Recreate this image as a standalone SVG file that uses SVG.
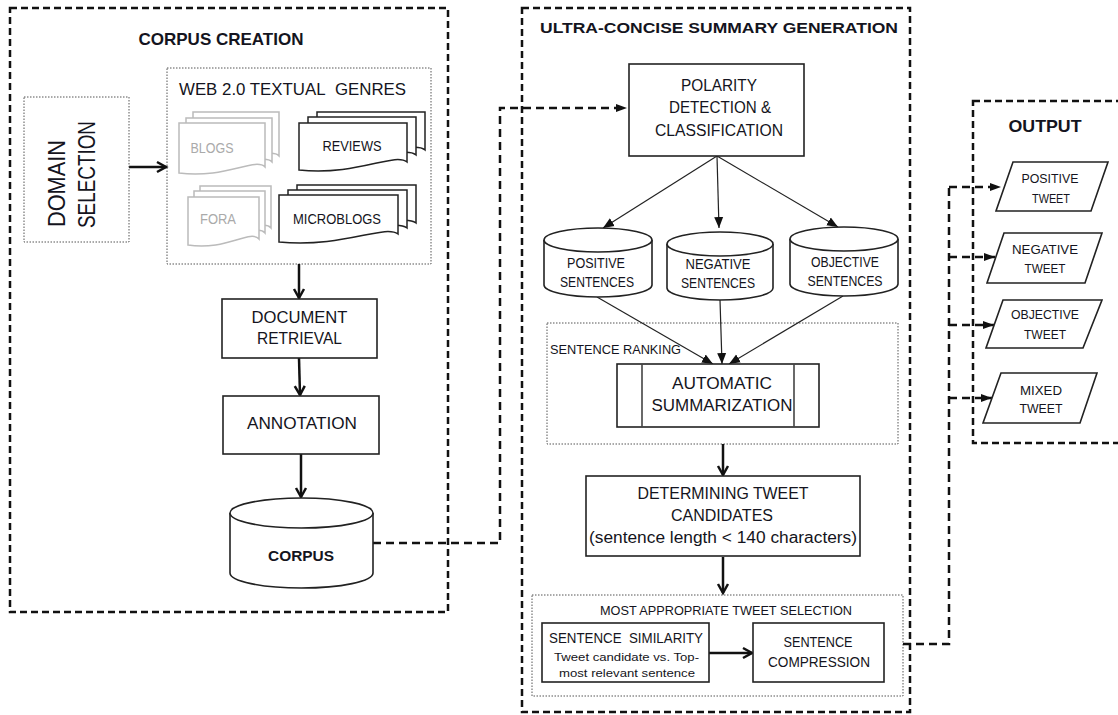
<svg xmlns="http://www.w3.org/2000/svg" width="1118" height="715" viewBox="0 0 1118 715">
<style>
.dbox{fill:none;stroke:#111;stroke-width:2.5;stroke-dasharray:7 4}
.dot{fill:#fff;stroke:#555;stroke-width:1;stroke-dasharray:1.5 1.5}
.box{fill:#fff;stroke:#222;stroke-width:1.6}
.doc{fill:#fff;stroke:#222;stroke-width:1.5}
.gdoc{fill:#fff;stroke:#bbb;stroke-width:1.5}
.t{font-family:"Liberation Sans",Arial,sans-serif;fill:#141420;text-anchor:middle}
.s{text-anchor:start}
.b{font-weight:bold}
.g{fill:#aaa}
.arr{stroke:#111;stroke-width:2.5;fill:none;marker-end:url(#open)}
.thin{stroke:#222;stroke-width:1.2;fill:none;marker-end:url(#tri)}
.dc{stroke:#111;stroke-width:2.5;fill:none;stroke-dasharray:8 5}
.dca{stroke:#111;stroke-width:2.5;fill:none;stroke-dasharray:8 5;marker-end:url(#tri2)}
</style>
<defs>
<marker id="open" markerUnits="userSpaceOnUse" markerWidth="14" markerHeight="14" refX="11" refY="7" orient="auto"><path d="M2,2 L11,7 L2,12" fill="none" stroke="#111" stroke-width="2.5"/></marker>
<marker id="tri" markerUnits="userSpaceOnUse" markerWidth="12" markerHeight="12" refX="11" refY="6" orient="auto"><path d="M0,1.5 L11,6 L0,10.5 Z" fill="#111"/></marker>
<marker id="tri2" markerUnits="userSpaceOnUse" markerWidth="12" markerHeight="12" refX="11" refY="6" orient="auto"><path d="M0,2 L11,6 L0,10 Z" fill="#111"/></marker>
</defs>
<rect width="1118" height="715" fill="#fff"/>

<g id="containers">
<g id="corpus-creation">
<rect class="dbox" x="10" y="8" width="438" height="604"/>
<text class="t b" x="221" y="45" font-size="17" textLength="165" lengthAdjust="spacingAndGlyphs">CORPUS CREATION</text>
</g>
<g id="ultra-concise">
<rect class="dbox" x="522" y="8" width="388" height="704"/>
<text class="t b" x="719" y="33" font-size="15.5" textLength="358" lengthAdjust="spacingAndGlyphs">ULTRA-CONCISE SUMMARY GENERATION</text>
</g>
<g id="output">
<rect class="dbox" x="973" y="101" width="150" height="342"/>
<text class="t b" x="1045" y="132" font-size="17" textLength="73" lengthAdjust="spacingAndGlyphs">OUTPUT</text>
</g>
<g id="web-genres">
<rect class="dot" x="167" y="68" width="264" height="196"/>
<text class="t s" x="179" y="95" font-size="17" textLength="227" lengthAdjust="spacingAndGlyphs">WEB 2.0 TEXTUAL&#160; GENRES</text>
</g>
<g id="sentence-ranking">
<rect class="dot" x="547" y="323" width="351" height="121"/>
<text class="t s" x="550" y="354" font-size="13.5" textLength="131" lengthAdjust="spacingAndGlyphs">SENTENCE RANKING</text>
</g>
<g id="tweet-selection">
<rect class="dot" x="532" y="595" width="371" height="101"/>
<text class="t" x="726" y="615" font-size="13.5" textLength="252" lengthAdjust="spacingAndGlyphs">MOST APPROPRIATE TWEET SELECTION</text>
</g>
</g>

<g id="connectors">
<line class="arr" x1="129" y1="167" x2="166" y2="167"/>
<line class="arr" x1="299" y1="264" x2="299" y2="298"/>
<line class="arr" x1="299" y1="358" x2="300" y2="395"/>
<line class="arr" x1="301" y1="454" x2="301" y2="497"/>
<path class="dca" d="M373,543 H500 V108 H627"/>
<line class="thin" x1="717" y1="156" x2="603" y2="228"/>
<line class="thin" x1="717" y1="156" x2="719" y2="228"/>
<line class="thin" x1="717" y1="156" x2="838" y2="227"/>
<line class="thin" x1="597" y1="297" x2="713" y2="364"/>
<line class="thin" x1="720" y1="300" x2="722" y2="364"/>
<line class="thin" x1="843" y1="296" x2="729" y2="364"/>
<line class="arr" x1="723" y1="444" x2="723" y2="475"/>
<line class="arr" x1="723" y1="557" x2="723" y2="593"/>
<line class="arr" x1="709" y1="653" x2="752" y2="653"/>
<path class="dc" d="M903,644 H949 V187"/>
<line class="dca" x1="949" y1="187" x2="1001" y2="187"/>
<line class="dca" x1="949" y1="257" x2="995" y2="257"/>
<line class="dca" x1="949" y1="325" x2="994" y2="325"/>
<line class="dca" x1="949" y1="398" x2="992" y2="398"/>
</g>

<g id="domain-selection">
<rect class="dot" x="24" y="97" width="105" height="145"/>
<text class="t s" transform="translate(65,227) rotate(-90)" font-size="23" textLength="87" lengthAdjust="spacingAndGlyphs">DOMAIN</text>
<text class="t s" transform="translate(95,228) rotate(-90)" font-size="23" textLength="107" lengthAdjust="spacingAndGlyphs">SELECTION</text>
</g>

<g id="blogs">
<path class="gdoc" d="M193,112 H279 V156 C269,146 239,168 193,162 Z"/>
<path class="gdoc" d="M186,118 H272 V162 C262,152 232,174 186,168 Z"/>
<path class="gdoc" d="M179,123 H265 V167 C255,157 225,179 179,173 Z"/>
<text class="t g" x="212" y="153" font-size="14" textLength="43" lengthAdjust="spacingAndGlyphs">BLOGS</text>
</g>
<g id="reviews">
<path class="doc" d="M317,112 H425 V150 C412,140 376,162 317,156 Z"/>
<path class="doc" d="M308,117 H416 V155 C403,145 367,167 308,161 Z"/>
<path class="doc" d="M299,123 H407 V162 C394,152 358,176 299,170 Z"/>
<text class="t" x="352" y="151" font-size="14" textLength="59" lengthAdjust="spacingAndGlyphs">REVIEWS</text>
</g>
<g id="fora">
<path class="gdoc" d="M200,186 H271 V228 C262,218 238,240 200,234 Z"/>
<path class="gdoc" d="M194,191 H265 V233 C256,223 232,245 194,239 Z"/>
<path class="gdoc" d="M188,197 H259 V239 C250,229 226,251 188,245 Z"/>
<text class="t g" x="218" y="224" font-size="14" textLength="36" lengthAdjust="spacingAndGlyphs">FORA</text>
</g>
<g id="microblogs">
<path class="doc" d="M297,185 H416 V223 C402,213 362,235 297,229 Z"/>
<path class="doc" d="M288,190 H407 V228 C393,218 353,240 288,234 Z"/>
<path class="doc" d="M279,195 H398 V234 C384,224 344,248 279,242 Z"/>
<text class="t" x="337" y="224" font-size="14" textLength="88" lengthAdjust="spacingAndGlyphs">MICROBLOGS</text>
</g>

<g id="document-retrieval">
<rect class="box" x="222" y="299" width="155" height="59"/>
<text class="t" x="299.5" y="323" font-size="16" textLength="96" lengthAdjust="spacingAndGlyphs">DOCUMENT</text>
<text class="t" x="299.5" y="344" font-size="16" textLength="85" lengthAdjust="spacingAndGlyphs">RETRIEVAL</text>
</g>
<g id="annotation">
<rect class="box" x="223" y="396" width="156" height="58"/>
<text class="t" x="302" y="429" font-size="17" textLength="110" lengthAdjust="spacingAndGlyphs">ANNOTATION</text>
</g>
<g id="corpus">
<path class="box" d="M230,513 V573 A71.5,15 0 0 0 373,573 V513"/>
<ellipse class="box" cx="301.5" cy="513" rx="71.5" ry="15"/>
<text class="t b" x="301" y="561" font-size="15.5" textLength="66" lengthAdjust="spacingAndGlyphs">CORPUS</text>
</g>

<g id="polarity">
<rect class="box" x="629" y="64" width="175" height="92"/>
<text class="t" x="719" y="91" font-size="16" textLength="76" lengthAdjust="spacingAndGlyphs">POLARITY</text>
<text class="t" x="720" y="113" font-size="16" textLength="102" lengthAdjust="spacingAndGlyphs">DETECTION &amp;</text>
<text class="t" x="719" y="136" font-size="16" textLength="128" lengthAdjust="spacingAndGlyphs">CLASSIFICATION</text>
</g>
<g id="positive-sentences">
<path class="box" d="M544,240 V285 A54,12 0 0 0 652,285 V240"/>
<ellipse class="box" cx="598" cy="240" rx="54" ry="12"/>
<text class="t" x="596" y="268" font-size="14" textLength="58" lengthAdjust="spacingAndGlyphs">POSITIVE</text>
<text class="t" x="597" y="287" font-size="14" textLength="74" lengthAdjust="spacingAndGlyphs">SENTENCES</text>
</g>
<g id="negative-sentences">
<path class="box" d="M667,244 V288 A53,12 0 0 0 773,288 V244"/>
<ellipse class="box" cx="720" cy="244" rx="53" ry="12"/>
<text class="t" x="718" y="269" font-size="14" textLength="65" lengthAdjust="spacingAndGlyphs">NEGATIVE</text>
<text class="t" x="718" y="288" font-size="14" textLength="74" lengthAdjust="spacingAndGlyphs">SENTENCES</text>
</g>
<g id="objective-sentences">
<path class="box" d="M790,239 V284 A54,12 0 0 0 898,284 V239"/>
<ellipse class="box" cx="844" cy="239" rx="54" ry="12"/>
<text class="t" x="845" y="267" font-size="14" textLength="68" lengthAdjust="spacingAndGlyphs">OBJECTIVE</text>
<text class="t" x="845" y="286" font-size="14" textLength="75" lengthAdjust="spacingAndGlyphs">SENTENCES</text>
</g>
<g id="automatic-summarization">
<rect class="box" x="617" y="364" width="202" height="63"/>
<line x1="642" y1="364" x2="642" y2="427" stroke="#444" stroke-width="1.6"/>
<line x1="794" y1="364" x2="794" y2="427" stroke="#444" stroke-width="1.6"/>
<text class="t" x="722" y="389" font-size="16" textLength="100" lengthAdjust="spacingAndGlyphs">AUTOMATIC</text>
<text class="t" x="722" y="411" font-size="16" textLength="141" lengthAdjust="spacingAndGlyphs">SUMMARIZATION</text>
</g>
<g id="tweet-candidates">
<rect class="box" x="586" y="476" width="274" height="80"/>
<text class="t" x="723" y="499" font-size="16" textLength="171" lengthAdjust="spacingAndGlyphs">DETERMINING TWEET</text>
<text class="t" x="722" y="521" font-size="16" textLength="102" lengthAdjust="spacingAndGlyphs">CANDIDATES</text>
<text class="t" x="723" y="543" font-size="16" textLength="268" lengthAdjust="spacingAndGlyphs">(sentence length &lt; 140 characters)</text>
</g>
<g id="sentence-similarity">
<rect class="box" x="542" y="623" width="167" height="59"/>
<text class="t" x="626" y="643" font-size="14" textLength="154" lengthAdjust="spacingAndGlyphs">SENTENCE&#160; SIMILARITY</text>
<text class="t" x="626.5" y="661" font-size="11.5" textLength="145" lengthAdjust="spacingAndGlyphs">Tweet candidate vs. Top-</text>
<text class="t" x="627" y="677" font-size="11.5" textLength="136" lengthAdjust="spacingAndGlyphs">most relevant sentence</text>
</g>
<g id="sentence-compression">
<rect class="box" x="753" y="623" width="131" height="59"/>
<text class="t" x="818" y="647" font-size="14" textLength="69" lengthAdjust="spacingAndGlyphs">SENTENCE</text>
<text class="t" x="819" y="667" font-size="14" textLength="102" lengthAdjust="spacingAndGlyphs">COMPRESSION</text>
</g>

<g id="positive-tweet">
<polygon class="box" points="1013,162 1108,162 1091,211 996,211"/>
<text class="t" x="1050" y="183" font-size="13.5" textLength="57" lengthAdjust="spacingAndGlyphs">POSITIVE</text>
<text class="t" x="1051" y="203" font-size="13.5" textLength="38" lengthAdjust="spacingAndGlyphs">TWEET</text>
</g>
<g id="negative-tweet">
<polygon class="box" points="1004,233 1102,233 1085,283 987,283"/>
<text class="t" x="1045" y="254" font-size="13.5" textLength="66" lengthAdjust="spacingAndGlyphs">NEGATIVE</text>
<text class="t" x="1045" y="273" font-size="13.5" textLength="41" lengthAdjust="spacingAndGlyphs">TWEET</text>
</g>
<g id="objective-tweet">
<polygon class="box" points="1003,300 1102,300 1083,348 986,348"/>
<text class="t" x="1045" y="319" font-size="13.5" textLength="68" lengthAdjust="spacingAndGlyphs">OBJECTIVE</text>
<text class="t" x="1045" y="339" font-size="13.5" textLength="42" lengthAdjust="spacingAndGlyphs">TWEET</text>
</g>
<g id="mixed-tweet">
<polygon class="box" points="1001,373 1097,373 1080,423 983,423"/>
<text class="t" x="1041" y="395" font-size="13.5" textLength="42" lengthAdjust="spacingAndGlyphs">MIXED</text>
<text class="t" x="1041" y="413" font-size="13.5" textLength="43" lengthAdjust="spacingAndGlyphs">TWEET</text>
</g>
</svg>
